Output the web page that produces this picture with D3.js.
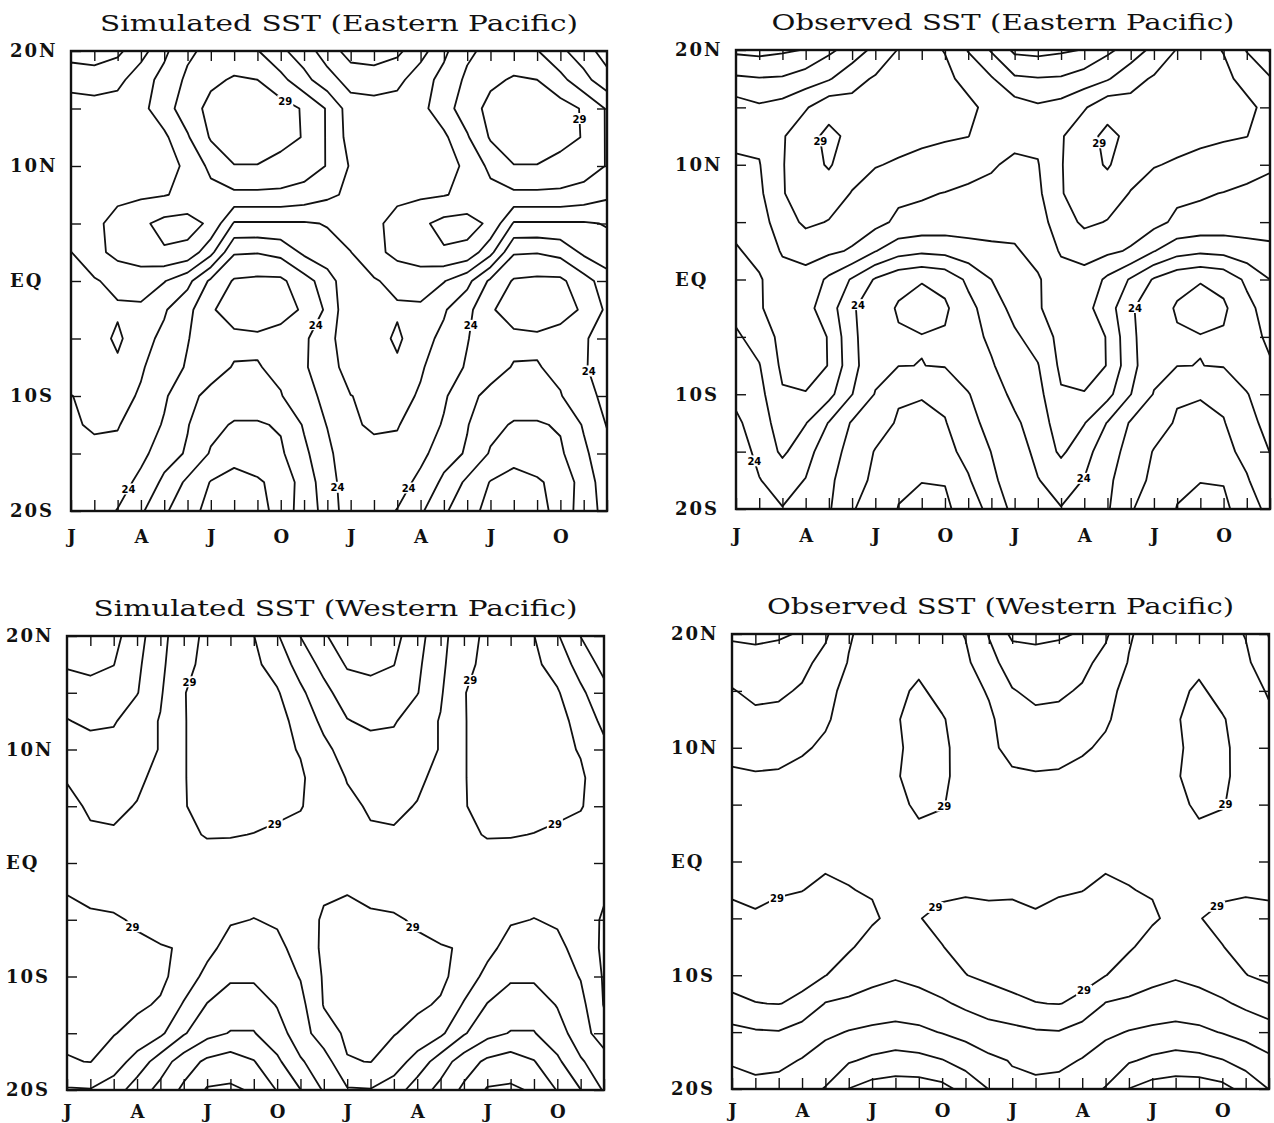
<!DOCTYPE html>
<html>
<head>
<meta charset="utf-8">
<script src="https://cdn.jsdelivr.net/npm/d3@7"></script>
<style>
  body { margin: 0; background: #fff; }
</style>
</head>
<body>
<svg id="sst" width="1274" height="1123"></svg>
<script>
// monthly climatology (Jan..Dec), shown twice along the time axis
const monthLetters = ["J", "F", "M", "A", "M", "J", "J", "A", "S", "O", "N", "D"];
const latitudes = [20, 17.5, 15, 12.5, 10, 7.5, 5, 2.5, 0, -2.5, -5, -7.5, -10, -12.5, -15, -17.5, -20];
const latTicks = [20, 15, 10, 5, 0, -5, -10, -15, -20];
const latNames = { "20": "20N", "10": "10N", "0": "EQ", "-10": "10S", "-20": "20S" };
const levels = d3.range(20, 31);

// rows = latitudes (20N -> 20S), columns = Jan..Dec, deg C
const simEastSST = [
  [24.6, 24.5, 24.8, 25.6, 26.8, 27.8, 28.3, 28.4, 28.05, 27.2, 26.5, 25.5],
  [25.6, 25.5, 25.7, 26.6, 27.3, 28.2, 28.8, 29.1, 29.0, 28.3, 27.3, 26.4],
  [26.5, 26.4, 26.5, 26.7, 27.6, 28.5, 29.3, 29.6, 29.6, 29.4, 28.9, 27.9],
  [26.6, 26.4, 26.4, 26.5, 26.8, 27.9, 29.1, 29.5, 29.5, 29.3, 28.95, 27.9],
  [26.9, 26.7, 26.7, 26.8, 26.9, 27.05, 28.3, 28.97, 28.97, 28.7, 28.5, 27.95],
  [26.8, 26.8, 26.8, 26.85, 26.95, 27.2, 27.6, 27.8, 27.8, 27.8, 27.6, 27.2],
  [26.5, 26.8, 27.3, 27.8, 28.3, 28.4, 27.8, 25.9, 25.9, 25.9, 25.9, 26.05],
  [25.98, 26.7, 27.3, 27.6, 27.9, 27.7, 26.3, 24.1, 24.05, 24.3, 25.2, 25.7],
  [25.85, 25.9, 26.3, 26.4, 26.05, 25.3, 23.8, 22.9, 22.8, 22.8, 23.6, 24.5],
  [25.9, 25.8, 25.85, 25.85, 25.1, 24.3, 23.1, 22.6, 22.5, 22.7, 23.1, 24.2],
  [25.8, 25.5, 26.2, 25.3, 24.8, 24.05, 23.4, 23.2, 23.15, 23.3, 23.85, 24.6],
  [25.5, 25.5, 25.8, 25.1, 24.5, 23.9, 23.3, 22.95, 22.95, 23.2, 23.9, 24.5],
  [24.98, 25.2, 25.3, 24.9, 24.15, 23.2, 22.8, 22.6, 22.6, 22.95, 23.6, 24.3],
  [24.95, 25.05, 25.05, 24.6, 23.9, 23.05, 22.3, 21.9, 21.9, 22.1, 23.1, 24.05],
  [24.9, 24.9, 24.8, 24.3, 23.4, 22.9, 21.9, 21.25, 21.45, 21.85, 22.8, 23.7],
  [24.7, 24.7, 24.5, 23.7, 22.8, 21.8, 20.95, 20.75, 20.9, 21.25, 22.5, 23.5],
  [24.6, 24.5, 23.95, 23.15, 22.15, 21.35, 20.7, 20.3, 20.5, 21.5, 22.4, 23.4]
];

const obsEastSST = [
  [24.8, 24.7, 24.85, 25.05, 25.8, 26.4, 27.3, 28.05, 28.4, 27.95, 26.95, 25.9],
  [26.15, 26.05, 26.1, 26.5, 26.9, 27.7, 28.1, 28.4, 28.5, 28.3, 27.6, 27.1],
  [27.5, 27.15, 27.4, 27.9, 28.7, 28.3, 28.3, 28.4, 28.4, 28.3, 28.3, 27.6],
  [27.3, 27.2, 27.9, 28.7, 29.2, 28.8, 28.4, 28.3, 28.15, 28.1, 28.02, 27.5],
  [26.8, 26.95, 27.95, 28.6, 29.1, 28.4, 28.05, 27.9, 27.8, 27.6, 27.3, 27.1],
  [26.6, 26.8, 27.95, 28.4, 28.5, 27.95, 27.6, 27.2, 27.1, 26.97, 26.85, 26.75],
  [26.3, 26.6, 27.5, 28.2, 27.95, 27.5, 27.3, 26.8, 26.7, 26.6, 26.5, 26.4],
  [25.9, 26.3, 27.1, 27.3, 27.2, 26.9, 26.05, 25.4, 25.2, 25.3, 25.6, 25.8],
  [25.6, 25.9, 26.6, 26.7, 25.8, 24.9, 23.9, 23.3, 23.05, 23.3, 24.2, 25.0],
  [25.3, 25.9, 26.5, 26.3, 25.5, 24.1, 23.5, 22.9, 22.7, 22.85, 23.7, 24.5],
  [24.85, 25.4, 26.3, 26.5, 25.95, 24.2, 23.4, 23.1, 23.03, 23.1, 23.6, 24.2],
  [24.6, 24.95, 26.2, 26.4, 25.97, 24.3, 23.3, 23.02, 22.99, 23.05, 23.5, 23.9],
  [24.2, 24.7, 25.9, 25.95, 25.3, 24.02, 22.95, 22.1, 22.05, 22.2, 22.95, 23.6],
  [23.85, 24.4, 25.6, 25.05, 23.95, 22.9, 22.4, 21.9, 21.8, 21.95, 22.6, 23.4],
  [23.6, 24.2, 25.2, 24.3, 23.5, 22.6, 21.95, 21.6, 21.5, 21.7, 22.3, 23.02],
  [23.5, 23.97, 24.3, 23.97, 23.2, 22.4, 21.8, 21.1, 21.02, 21.05, 21.9, 22.8],
  [23.3, 23.75, 23.97, 23.6, 23.1, 22.1, 21.4, 20.98, 20.8, 20.8, 21.5, 22.3]
];

const simWestSST = [
  [25.5, 25.4, 25.7, 26.6, 27.7, 28.6, 29.2, 29.3, 29.02, 28.1, 26.98, 26.1],
  [25.9, 25.8, 25.98, 26.8, 27.8, 28.7, 29.3, 29.5, 29.2, 28.6, 27.6, 26.7],
  [26.5, 26.3, 26.5, 26.95, 27.9, 28.95, 29.5, 29.6, 29.5, 29.1, 28.2, 27.3],
  [27.05, 26.8, 26.9, 27.6, 28.05, 28.95, 29.4, 29.5, 29.5, 29.2, 28.8, 27.7],
  [27.5, 27.4, 27.4, 27.6, 28.05, 28.95, 29.4, 29.5, 29.4, 29.2, 28.95, 28.3],
  [27.95, 27.7, 27.65, 27.8, 28.3, 28.95, 29.4, 29.5, 29.4, 29.3, 29.1, 28.6],
  [28.2, 27.9, 27.8, 28.05, 28.5, 28.95, 29.3, 29.35, 29.3, 29.2, 29.05, 28.6],
  [28.4, 28.1, 28.1, 28.3, 28.6, 28.85, 29.05, 29.05, 28.98, 28.85, 28.75, 28.6],
  [28.6, 28.5, 28.4, 28.5, 28.6, 28.7, 28.7, 28.6, 28.5, 28.5, 28.6, 28.7],
  [28.97, 28.85, 28.7, 28.5, 28.4, 28.35, 28.3, 28.3, 28.3, 28.4, 28.6, 28.9],
  [29.2, 29.1, 29.1, 28.9, 28.7, 28.5, 28.3, 28.1, 27.98, 28.1, 28.6, 29.1],
  [29.4, 29.35, 29.3, 29.15, 29.05, 28.95, 28.3, 27.6, 27.4, 27.8, 28.3, 29.2],
  [29.4, 29.4, 29.35, 29.3, 29.2, 28.6, 27.7, 27.15, 27.15, 27.5, 28.05, 29.1],
  [29.3, 29.3, 29.25, 29.15, 28.9, 27.9, 26.95, 26.5, 26.5, 27.05, 27.7, 29.05],
  [29.15, 29.2, 29.05, 28.7, 28.2, 27.1, 26.3, 25.95, 25.95, 26.6, 27.5, 28.6],
  [28.95, 29.02, 28.5, 27.6, 26.5, 25.5, 24.8, 24.5, 24.95, 25.8, 26.9, 27.5],
  [27.9, 27.95, 27.5, 26.5, 25.7, 24.8, 23.9, 23.85, 24.1, 25.05, 25.98, 27.1]
];

const obsWestSST = [
  [25.8, 25.7, 25.85, 26.1, 26.85, 27.9, 28.4, 28.6, 28.6, 28.4, 27.95, 26.95],
  [26.6, 26.5, 26.55, 26.75, 27.3, 28.05, 28.6, 28.8, 28.85, 28.6, 28.2, 27.3],
  [27.05, 26.8, 26.85, 27.1, 27.7, 28.3, 28.7, 28.85, 29.1, 28.8, 28.45, 27.9],
  [27.4, 27.2, 27.25, 27.6, 27.85, 28.5, 28.8, 28.95, 29.2, 29.05, 28.7, 28.2],
  [27.6, 27.5, 27.55, 27.85, 28.2, 28.55, 28.75, 28.9, 29.2, 29.12, 28.75, 28.3],
  [28.2, 28.1, 28.15, 28.35, 28.5, 28.6, 28.75, 28.95, 29.2, 29.1, 28.8, 28.5],
  [28.5, 28.4, 28.4, 28.5, 28.6, 28.7, 28.75, 28.85, 29.1, 29.03, 28.8, 28.6],
  [28.7, 28.6, 28.6, 28.65, 28.7, 28.8, 28.85, 28.9, 28.9, 28.85, 28.8, 28.75],
  [28.85, 28.8, 28.75, 28.8, 28.85, 28.9, 28.9, 28.85, 28.85, 28.85, 28.85, 28.85],
  [28.9, 28.8, 28.9, 28.98, 29.2, 29.02, 28.95, 28.8, 28.7, 28.85, 28.9, 28.85],
  [29.2, 29.1, 29.3, 29.4, 29.4, 29.3, 29.1, 28.8, 28.97, 29.2, 29.3, 29.25],
  [29.4, 29.4, 29.45, 29.4, 29.3, 29.1, 28.7, 28.5, 28.7, 28.98, 29.25, 29.35],
  [29.3, 29.3, 29.3, 29.2, 29.02, 28.6, 28.3, 28.1, 28.3, 28.6, 28.98, 29.2],
  [28.8, 28.98, 29.02, 28.85, 27.95, 27.8, 27.6, 27.5, 27.6, 27.85, 28.2, 28.5],
  [27.7, 27.9, 27.95, 27.5, 27.2, 26.95, 26.8, 26.7, 26.8, 27.05, 27.3, 27.6],
  [27.05, 27.2, 27.2, 26.95, 26.5, 26.1, 25.8, 25.6, 25.7, 25.95, 26.4, 26.8],
  [26.8, 26.8, 26.7, 26.35, 25.95, 24.98, 24.6, 24.5, 24.5, 24.7, 25.3, 26.02]
];

// contour labels: [level, month position (0 = first Jan), latitude]
const simEastMarks = [[29, 9.2, 15.7], [29, 21.5, 14.1], [24, 10.6, -3.9], [24, 17.3, -3.9],
  [24, 22.1, -7.9], [24, 2.3, -17.9], [24, 11.7, -17.9], [24, 14.4, -17.9]];
const obsEastMarks = [[29, 3.7, 12.1], [29, 15.6, 11.9], [24, 5.1, -2.0], [24, 16.9, -2.1],
  [24, 0.8, -15.8], [24, 14.9, -17.2]];
const simWestMarks = [[29, 5.2, 16.0], [29, 17.4, 16.0], [29, 9.0, 3.0], [29, 21.0, 3.0],
  [29, 3.0, -5.2], [29, 15.0, -5.2]];
const obsWestMarks = [[29, 9.0, 5.0], [29, 21.2, 5.0], [29, 2.0, -3.5], [29, 8.7, -4.0],
  [29, 20.8, -4.0], [29, 15.3, -12.0]];

const panels = [
  { title: "Simulated SST (Eastern Pacific)", sst: simEastSST, marks: simEastMarks,
    left: 71, right: 607, top: 51, bottom: 511, titleY: 31, titleW: 478, labelGap: 32 },
  { title: "Observed SST (Eastern Pacific)", sst: obsEastSST, marks: obsEastMarks,
    left: 736, right: 1270, top: 50, bottom: 509, titleY: 30, titleW: 463, labelGap: 33 },
  { title: "Simulated SST (Western Pacific)", sst: simWestSST, marks: simWestMarks,
    left: 67, right: 604, top: 636, bottom: 1090, titleY: 616, titleW: 484, labelGap: 28 },
  { title: "Observed SST (Western Pacific)", sst: obsWestSST, marks: obsWestMarks,
    left: 732, right: 1269, top: 634, bottom: 1089, titleY: 614, titleW: 467, labelGap: 28 }
];

const svg = d3.select("svg#sst");
svg.append("rect").attr("width", 1274).attr("height", 1123).attr("fill", "#fff");

// marching squares from d3, then linear placement with grid nodes on integer coords
function isolines(values, nx, ny, level) {
  const raw = d3.contours().size([nx, ny]).smooth(false).contour(values, level);
  const at = (i, j) => values[j * nx + i];
  return raw.coordinates.flat().map((ring) =>
    ring.map(([px, py]) => {
      if (Number.isInteger(px)) {
        const j = py - 0.5;
        if (px <= 0) return [0, j];
        if (px >= nx) return [nx - 1, j];
        const v0 = at(px - 1, j), v1 = at(px, j);
        return [px - 1 + (level - v0) / (v1 - v0), j];
      }
      const i = px - 0.5;
      if (py <= 0) return [i, 0];
      if (py >= ny) return [i, ny - 1];
      const v0 = at(i, py - 1), v1 = at(i, py);
      return [i, py - 1 + (level - v0) / (v1 - v0)];
    })
  );
}

const nx = 24, ny = latitudes.length;
const gridLat = d3.scaleLinear([0, ny - 1], [20, -20]);

panels.forEach((p) => {
  const g = svg.append("g");
  const x = d3.scaleLinear([0, 23], [p.left, p.right]);
  const y = d3.scaleLinear([20, -20], [p.top, p.bottom]);

  const values = [];
  for (let j = 0; j < ny; j++) for (let i = 0; i < nx; i++) values.push(p.sst[j][i % 12]);

  const toPx = ([i, j]) => [x(i), y(gridLat(j))];
  const line = d3.line().curve(d3.curveLinearClosed);
  const byLevel = new Map();

  const lines = g.append("g")
    .attr("fill", "none")
    .attr("stroke", "#111")
    .attr("stroke-width", 1.8)
    .attr("stroke-linejoin", "round");

  levels.forEach((level) => {
    const rings = isolines(values, nx, ny, level).map((r) => r.map(toPx));
    byLevel.set(level, rings);
    lines.selectAll(null)
      .data(rings)
      .join("path")
      .attr("d", (r) => line(r));
  });

  // contour labels, snapped onto the nearest point of their line
  p.marks.forEach(([level, m, lat]) => {
    const tx = x(m), ty = y(lat);
    let best = null, bd = Infinity;
    (byLevel.get(level) || []).forEach((r) => {
      for (let k = 0; k < r.length; k++) {
        const a = r[k], b = r[(k + 1) % r.length];
        const dx = b[0] - a[0], dy = b[1] - a[1];
        const len2 = dx * dx + dy * dy || 1;
        const t = Math.max(0, Math.min(1, ((tx - a[0]) * dx + (ty - a[1]) * dy) / len2));
        const q = [a[0] + t * dx, a[1] + t * dy];
        if (q[0] < p.left + 4 || q[0] > p.right - 4 || q[1] < p.top + 4 || q[1] > p.bottom - 4) continue;
        const d = (q[0] - tx) ** 2 + (q[1] - ty) ** 2;
        if (d < bd) { bd = d; best = q; }
      }
    });
    if (!best) best = [tx, ty];
    g.append("rect")
      .attr("x", best[0] - 8).attr("y", best[1] - 5.5)
      .attr("width", 16).attr("height", 11)
      .attr("fill", "#fff");
    g.append("text")
      .attr("x", best[0]).attr("y", best[1] + 4)
      .attr("text-anchor", "middle")
      .attr("font-family", "DejaVu Sans")
      .attr("font-weight", "bold")
      .attr("font-size", 10)
      .text(level);
  });

  // ticks and labels
  const axes = g.append("g").attr("font-family", "DejaVu Serif").attr("font-weight", "bold");

  axes.append("g")
    .attr("transform", `translate(0,${p.bottom})`)
    .call(d3.axisBottom(x).tickValues(d3.range(24)).tickSize(-11).tickPadding(p.labelGap - 13)
      .tickFormat((i) => (i % 3 === 0 ? monthLetters[i % 12] : "")))
    .call((a) => a.select(".domain").remove());

  axes.append("g")
    .attr("transform", `translate(0,${p.top})`)
    .call(d3.axisTop(x).tickValues(d3.range(1, 23)).tickSize(-10).tickFormat(""))
    .call((a) => a.select(".domain").remove());

  axes.append("g")
    .attr("transform", `translate(${p.left},0)`)
    .call(d3.axisLeft(y).tickValues(latTicks).tickSize(-10)
      .tickFormat((v) => latNames[String(v)] || ""))
    .call((a) => a.select(".domain").remove())
    .call((a) => a.selectAll("text").attr("x", -61).attr("text-anchor", "start").attr("letter-spacing", 2));

  axes.append("g")
    .attr("transform", `translate(${p.right},0)`)
    .call(d3.axisRight(y).tickValues(latTicks).tickSize(-10).tickFormat(""))
    .call((a) => a.select(".domain").remove());

  axes.selectAll(".tick line").attr("stroke", "#111").attr("stroke-width", 1.4);
  axes.selectAll("text").attr("font-size", 18).attr("font-family", "DejaVu Serif").attr("fill", "#111");

  g.append("rect")
    .attr("x", p.left).attr("y", p.top)
    .attr("width", p.right - p.left).attr("height", p.bottom - p.top)
    .attr("fill", "none").attr("stroke", "#111").attr("stroke-width", 2.4);

  svg.append("text")
    .attr("x", (p.left + p.right) / 2)
    .attr("y", p.titleY)
    .attr("text-anchor", "middle")
    .attr("font-family", "DejaVu Serif")
    .attr("font-size", 22)
    .attr("textLength", p.titleW)
    .attr("lengthAdjust", "spacingAndGlyphs")
    .attr("fill", "#111")
    .text(p.title);
});
</script>
</body>
</html>
